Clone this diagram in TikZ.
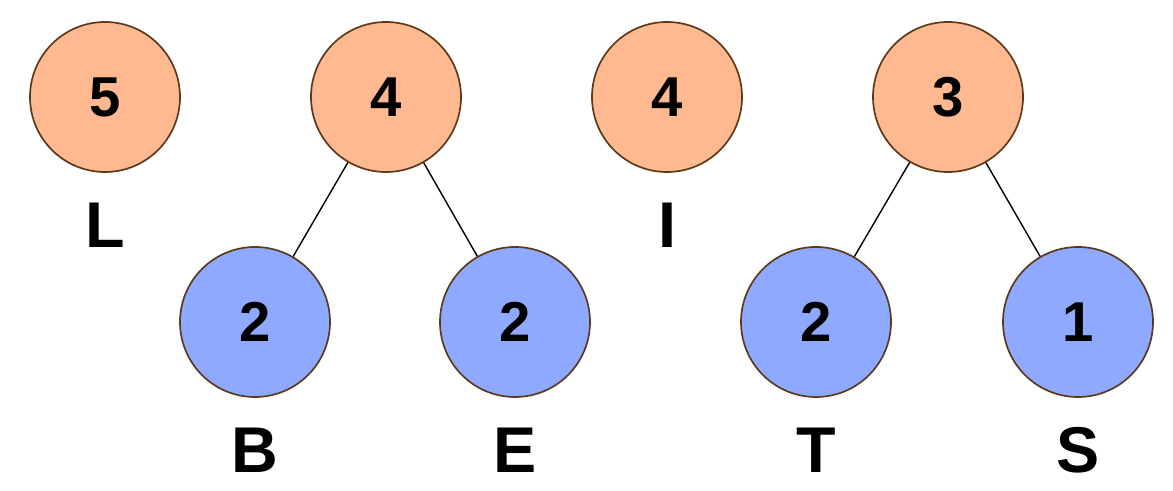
\documentclass[tikz,border=0pt]{standalone}
\usepackage{fontspec}
\setmainfont{Liberation Sans}
\definecolor{org}{HTML}{FFB990}
\definecolor{blu}{HTML}{8EA9FF}
\definecolor{brd}{HTML}{5A3A1A}
\begin{document}
\begin{tikzpicture}[x=0.025cm,y=-0.025cm,
 c/.style={circle,draw=brd,line width=1.2pt,minimum size=150*0.025cm,inner sep=0pt,font=\fontsize{40}{40}\selectfont\bfseries},
 o/.style={c,fill=org}, b/.style={c,fill=blu},
 lab/.style={font=\fontsize{46}{46}\selectfont\bfseries}]
\useasboundingbox (0,0) rectangle (1173,491);
\node[o] (n5) at (105,97) {5};
\node[o] (n4a) at (386,97) {4};
\node[o] (n4b) at (667,97) {4};
\node[o] (n3) at (948,97) {3};
\node[b] (nb) at (255,322) {2};
\node[b] (ne) at (515,322) {2};
\node[b] (nt) at (816,322) {2};
\node[b] (ns) at (1078,322) {1};
\node[lab] (lL) at (105,225) {L};
\node[lab] (lI) at (667,225) {I};
\node[lab] (lB) at (255,450) {B};
\node[lab] (lE) at (515,450) {E};
\node[lab] (lT) at (816,450) {T};
\node[lab] (lS) at (1078,450) {S};
\draw[line width=1pt] (n4a) -- (nb);
\draw[line width=1pt] (n4a) -- (ne);
\draw[line width=1pt] (n3) -- (nt);
\draw[line width=1pt] (n3) -- (ns);
\end{tikzpicture}
\end{document}
